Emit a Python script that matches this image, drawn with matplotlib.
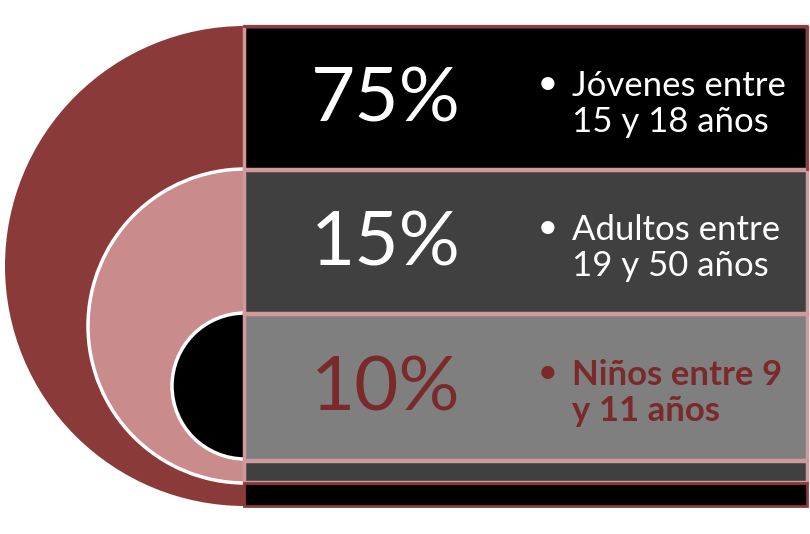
import matplotlib
matplotlib.use("Agg")
import matplotlib.pyplot as plt
from matplotlib.patches import Rectangle, Wedge

# datos
porcentajes = ["75%", "15%", "10%"]
grupos = [["Jóvenes entre", "15 y 18 años"],
          ["Adultos entre", "19 y 50 años"],
          ["Niños entre 9", "y 11 años"]]

# estilos
fondo_filas = ["#000000", "#404040", "#7f7f7f"]
color_texto = ["white", "white", "#7a2a2a"]
peso_texto = ["normal", "normal", "bold"]
rojo_osc = "#8b3a3a"
rosa = "#c98b8b"
borde = "#d09a9a"

plt.rcParams["font.family"] = ["Lato", "DejaVu Sans"]

fig = plt.figure(figsize=(8.1, 5.34), dpi=100)
ax = fig.add_axes([0, 0, 1, 1])
ax.set_xlim(0, 810)
ax.set_ylim(534, 0)
ax.axis("off")

cx = 245
# semicirculos de la izquierda
ax.add_patch(Wedge((cx, 266), 240, 90, 270, facecolor=rojo_osc, edgecolor="none"))
ax.add_patch(Wedge((cx, 326), 157, 90, 270, facecolor=rosa, edgecolor="white", lw=2.5))
ax.add_patch(Wedge((cx, 386), 73, 90, 270, facecolor="black", edgecolor="white", lw=2.5))

# filas
x0, x1 = 244, 807
filas_y = [(26, 169), (170, 313), (314, 460)]
for (ya, yb), fc in zip(filas_y, fondo_filas):
    ax.add_patch(Rectangle((x0, ya), x1 - x0, yb - ya, facecolor=fc,
                           edgecolor=borde, lw=2.5))
ax.add_patch(Rectangle((x0, 461), x1 - x0, 21, facecolor="#404040", edgecolor=borde, lw=2.5))
ax.add_patch(Rectangle((x0, 483), x1 - x0, 23, facecolor="black", edgecolor=rojo_osc, lw=2))
# borde exterior rojo de la fila superior
ax.plot([x0, x1, x1], [26, 26, 169], color=rojo_osc, lw=2)

for i, (pct, lineas) in enumerate(zip(porcentajes, grupos)):
    ya, yb = filas_y[i]
    ym = (ya + yb) / 2
    ax.text(386, ym + 2, pct, color=color_texto[i], fontsize=55,
            ha="center", va="center")
    ax.text(548, ym - 14, "•", color=color_texto[i], fontsize=22,
            ha="center", va="center", fontweight="bold")
    ax.text(572, ym - 12, lineas[0], color=color_texto[i], fontsize=25,
            ha="left", va="center", fontweight=peso_texto[i])
    ax.text(572, ym + 24, lineas[1], color=color_texto[i], fontsize=25,
            ha="left", va="center", fontweight=peso_texto[i])

fig.savefig("out.png", dpi=100, facecolor="white")
